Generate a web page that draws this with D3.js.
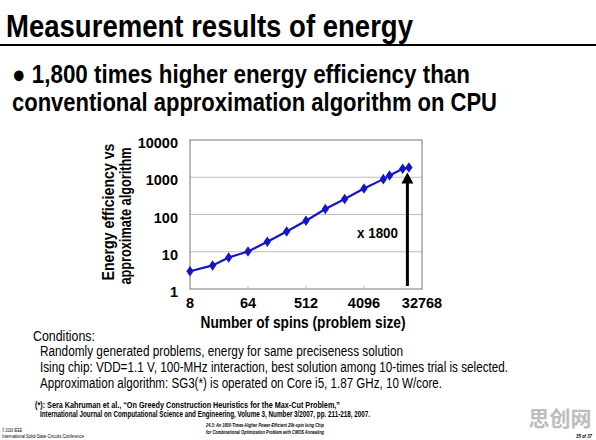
<!DOCTYPE html>
<html>
<head>
<meta charset="utf-8">
<script src="https://cdn.jsdelivr.net/npm/d3@7"></script>
<style>
  body { margin: 0; background: #fff; }
  svg { display: block; font-family: "Liberation Sans", Arial, sans-serif; }
</style>
</head>
<body>
<svg id="slide" width="596" height="440"></svg>
<script>
// measured energy efficiency (Ising chip vs SG3 on CPU)
var spins = [8, 18, 32, 64, 128, 256, 512, 1024, 2048, 4096, 8192, 10240, 16384, 20480];
var efficiency = [3, 4.3, 7, 10.2, 18.5, 35, 68, 140, 260, 500, 890, 1110, 1680, 1820];
var xTicks = [8, 64, 512, 4096, 32768];
var yTicks = [1, 10, 100, 1000, 10000];
var conditions = [
  "Randomly generated problems, energy for same preciseness solution",
  "Ising chip: VDD=1.1 V, 100-MHz interaction, best solution among 10-times trial is selected.",
  "Approximation algorithm: SG3(*) is operated on Core i5, 1.87 GHz, 10 W/core."
];

var svg = d3.select("#slide");

// helper: text squeezed to a given width (slide font is condensed)
function label(x, y, str, size, weight, len) {
  var t = svg.append("text")
    .attr("x", x)
    .attr("y", y)
    .attr("font-size", size)
    .attr("font-weight", weight)
    .text(str);
  if (len) t.attr("textLength", len).attr("lengthAdjust", "spacingAndGlyphs");
  return t;
}

// title
label(6, 37, "Measurement results of energy", 32, "bold", 407);
svg.append("line")
  .attr("x1", 0).attr("x2", 596)
  .attr("y1", 45).attr("y2", 45)
  .attr("stroke", "#000").attr("stroke-width", 2);

label(12, 83, "\u25CF 1,800 times higher energy efficiency than", 25, "bold", 458);
label(12, 111, "conventional approximation algorithm on CPU", 25, "bold", 485);

// chart
var x = d3.scaleLog().base(2).domain([8, 32768]).range([190, 422]);
var y = d3.scaleLog().domain([1, 10000]).range([289, 140]);

var plot = svg.append("g");

plot.selectAll("line.grid")
  .data(yTicks.slice(1, 4))
  .enter().append("line")
  .attr("class", "grid")
  .attr("x1", x(8)).attr("x2", x(32768))
  .attr("y1", function(d) { return y(d); })
  .attr("y2", function(d) { return y(d); })
  .attr("stroke", "#bdbdbd").attr("stroke-width", 1.2);

plot.append("rect")
  .attr("x", x(8)).attr("y", y(10000))
  .attr("width", x(32768) - x(8))
  .attr("height", y(1) - y(10000))
  .attr("fill", "none")
  .attr("stroke", "#8c8c8c").attr("stroke-width", 1.2);

plot.selectAll("line.xtick")
  .data(xTicks.slice(1, 4))
  .enter().append("line")
  .attr("class", "xtick")
  .attr("x1", function(d) { return x(d); })
  .attr("x2", function(d) { return x(d); })
  .attr("y1", y(1)).attr("y2", y(1) - 3)
  .attr("stroke", "#bdbdbd");

plot.selectAll("text.ylab")
  .data(yTicks)
  .enter().append("text")
  .attr("class", "ylab")
  .attr("x", 178)
  .attr("y", function(d) { return y(d) + 8; })
  .attr("text-anchor", "end")
  .attr("font-size", 14.5)
  .attr("font-weight", "bold")
  .text(function(d) { return d; });

plot.selectAll("text.xlab")
  .data(xTicks)
  .enter().append("text")
  .attr("class", "xlab")
  .attr("x", function(d) { return x(d); })
  .attr("y", 308)
  .attr("text-anchor", "middle")
  .attr("font-size", 14.5)
  .attr("font-weight", "bold")
  .text(function(d) { return d; });

var line = d3.line()
  .x(function(d, i) { return x(spins[i]); })
  .y(function(d) { return y(d); });

plot.append("path")
  .datum(efficiency)
  .attr("d", line)
  .attr("fill", "none")
  .attr("stroke", "#1515c8")
  .attr("stroke-width", 2.2);

plot.selectAll("path.pt")
  .data(efficiency)
  .enter().append("path")
  .attr("class", "pt")
  .attr("d", d3.symbol().type(d3.symbolDiamond).size(32))
  .attr("transform", function(d, i) { return "translate(" + x(spins[i]) + "," + y(d) + ") scale(1.2,1)"; })
  .attr("fill", "#1515c8");

// arrow
var ax = x(20480) - 1.5;
plot.append("line")
  .attr("x1", ax).attr("x2", ax)
  .attr("y1", 286).attr("y2", y(1820) + 14)
  .attr("stroke", "#000").attr("stroke-width", 3);
plot.append("path")
  .attr("d", "M" + (ax - 6) + "," + (y(1820) + 16) + " L" + ax + "," + (y(1820) + 5) + " L" + (ax + 6) + "," + (y(1820) + 16) + " Z")
  .attr("fill", "#000");

label(357, 238, "x 1800", 15, "bold", 41);

// axis titles
label(303, 328, "Number of spins (problem size)", 17, "bold", 205).attr("text-anchor", "middle");

svg.append("text")
  .attr("transform", "translate(114,212) rotate(-90)")
  .attr("text-anchor", "middle")
  .attr("font-size", 16.5).attr("font-weight", "bold")
  .attr("textLength", 137).attr("lengthAdjust", "spacingAndGlyphs")
  .text("Energy efficiency vs");
svg.append("text")
  .attr("transform", "translate(131,216) rotate(-90)")
  .attr("text-anchor", "middle")
  .attr("font-size", 16.5).attr("font-weight", "bold")
  .attr("textLength", 137).attr("lengthAdjust", "spacingAndGlyphs")
  .text("approximate algorithm");

// conditions
label(33, 341, "Conditions:", 14, "normal", 62);
var condLen = [363, 468, 402];
for (i = 0; i < conditions.length; i++) {
  label(40, 356 + i * 16, conditions[i], 14, "normal", condLen[i]);
}

// footnote
label(35, 408, "(*): Sera Kahruman et al., \u201COn Greedy Construction Heuristics for the Max-Cut Problem,\u201D", 8.5, "bold", 305);
label(40, 417, "International Journal on Computational Science and Engineering, Volume 3, Number 3/2007, pp. 211-218, 2007.", 8.5, "bold", 330);

// slide footer
label(2, 432, "\u00A9 2016 IEEE", 5, "normal", 20);
label(2, 438, "International Solid-State Circuits Conference", 5, "normal", 82);
label(265, 427, "24.3: An 1800-Times-Higher Power-Efficient 20k-spin Ising Chip", 5, "bold", 118).attr("text-anchor", "middle").attr("font-style", "italic");
label(265, 434, "for Combinational Optimization Problem with CMOS Annealing", 5, "bold", 118).attr("text-anchor", "middle").attr("font-style", "italic");
label(576, 438, "35 of 37", 5, "bold", 16).attr("font-style", "italic");

// watermark
svg.append("text")
  .attr("x", 560).attr("y", 426)
  .attr("text-anchor", "middle")
  .attr("font-family", "Noto Sans CJK SC")
  .attr("font-size", 21).attr("font-weight", "bold")
  .attr("fill", "#bdbdbd")
  .text("思创网");
</script>
</body>
</html>
